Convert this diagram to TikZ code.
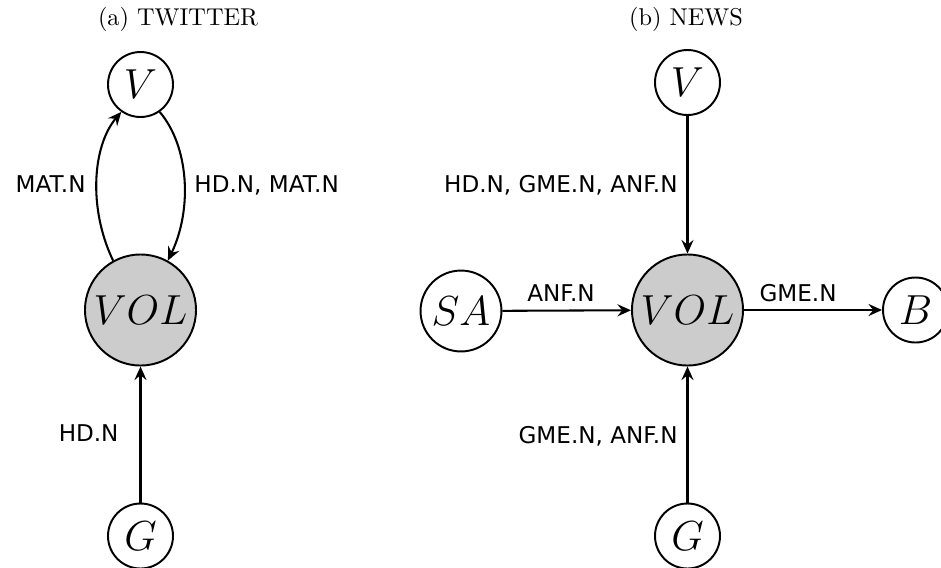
\documentclass[tikz,border=0pt]{standalone}
\usepackage{fontspec}
\newfontfamily\lblfont{DejaVu Sans}
\usetikzlibrary{arrows.meta}
\tikzset{
  st/.style={circle,draw,line width=0.8pt,inner sep=0pt,minimum size=26.75pt,font=\fontsize{16}{19}\selectfont},
  bigst/.style={st,fill=black!20,minimum size=45.7pt},
  conn/.style={draw,line width=0.85pt,-{Stealth[length=5.6pt,width=5pt,inset=2pt]}},
  lbl/.style={font=\lblfont\fontsize{9.5}{11}\selectfont,inner sep=0pt},
  ttl/.style={font=\fontsize{10}{12}\selectfont,inner sep=0pt,anchor=base}
}
\begin{document}
\begin{tikzpicture}[x=0.41152pt,y=-0.41152pt]
\useasboundingbox (0,0) rectangle (941,567);
% (a) TWITTER
\node[ttl] (ta) at (178,25) {(a) TWITTER};
\node[st] (va) at (140.5,84.5) {$V$};
\node[bigst] (vola) at (140.5,310) {$VOL$};
\node[st] (ga) at (140.5,536) {$G$};
\draw[conn] (vola.119) .. controls +(-25,-52) and +(-29,34) .. (va.235);
\draw[conn] (va.305) .. controls +(29,34) and +(25,-52) .. (vola.61);
\draw[conn] (ga) -- (vola);
\node[lbl,anchor=base east] (la1) at (86,192) {MAT.N};
\node[lbl,anchor=base west] (la2) at (194,192) {HD.N, MAT.N};
\node[lbl,anchor=base east] (la3) at (119,441) {HD.N};
% (b) NEWS
\node[ttl] (tb) at (686,25) {(b) NEWS};
\node[st] (vb) at (687.5,82.5) {$V$};
\node[bigst] (volb) at (687.5,310) {$VOL$};
\node[st] (gb) at (687.5,536) {$G$};
\node[st,minimum size=33.3pt] (sab) at (461,311) {$SA$};
\node[st] (bb) at (915.5,310) {$B$};
\draw[conn] (vb) -- (volb);
\draw[conn] (gb) -- (volb);
\draw[conn] (sab) -- (volb);
\draw[conn] (volb) -- (bb);
\node[lbl,anchor=base east] (lb1) at (678,192) {HD.N, GME.N, ANF.N};
\node[lbl,anchor=base east] (lb2) at (678,443) {GME.N, ANF.N};
\node[lbl,anchor=base] (lb3) at (561,301) {ANF.N};
\node[lbl,anchor=base] (lb4) at (798,301) {GME.N};
\end{tikzpicture}
\end{document}
